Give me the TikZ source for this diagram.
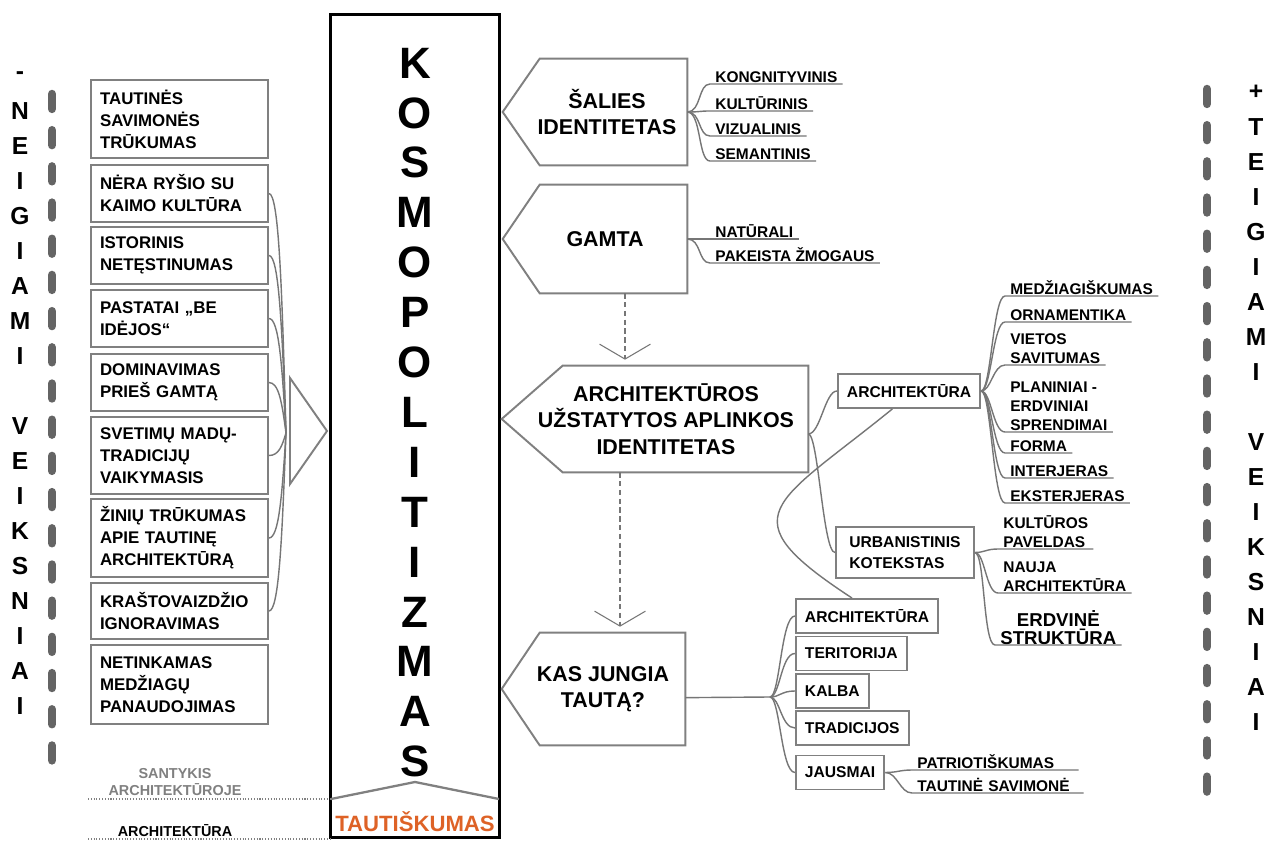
\documentclass[tikz,border=0pt]{standalone}
\usepackage{fontspec}
\setmainfont{Liberation Sans}
\usetikzlibrary{arrows.meta}

\definecolor{boxgray}{RGB}{128,128,128}
\definecolor{linkgray}{RGB}{118,118,118}
\definecolor{bargray}{RGB}{100,100,100}
\definecolor{notegray}{RGB}{128,128,128}
\definecolor{tautorange}{RGB}{222,98,38}

% pentagon pointing left, drawn round a node: name, corner inset, tip depth
\newcommand{\pentagon}[3]{%
  \draw[pentline] (#1.north east) -- (#1.south east) -- ([xshift=#2]#1.south west)
    -- ([xshift=-#3]#1.west) -- ([xshift=#2]#1.north west) -- cycle;}

\begin{document}
\begin{tikzpicture}[
    x=0.02cm, y=-0.02cm,
    negbox/.style={draw=boxgray, line width=1.1pt, minimum width=3.54cm, text width=3.18cm,
      inner xsep=0.18cm, align=left, font=\fontsize{9.6}{12.5}\selectfont\bfseries},
    pent/.style={inner sep=0pt, align=center, font=\fontsize{12.2}{15.1}\selectfont\bfseries},
    pentline/.style={draw=boxgray, line width=1.1pt},
    tbox/.style={draw=boxgray, line width=1.1pt, anchor=west, minimum height=0.68cm,
      inner xsep=0.18cm, align=left, font=\fontsize{8.9}{11.9}\selectfont\bfseries},
    leaf/.style={anchor=south west, inner xsep=0.1cm, inner ysep=0.8pt, text depth=0pt,
      align=left, font=\fontsize{8.8}{10.8}\selectfont\bfseries},
    link/.style={draw=linkgray, line width=0.8pt},
    flow/.style={draw=linkgray, line width=0.6pt, densely dashed,
      -{Straight Barb[length=8.5pt,width=29pt]}, shorten >=3.4pt},
    sidebar/.style={draw=bargray, line width=4.8pt, line cap=round, dash pattern=on 8.5pt off 12.1pt},
    sideletter/.style={font=\fontsize{14}{14}\selectfont\bfseries},
    bigletter/.style={font=\fontsize{25}{25}\selectfont\bfseries},
    note/.style={align=center, font=\fontsize{8.2}{10.2}\selectfont\bfseries}
]
\useasboundingbox (0,0) rectangle (1279,841);
\fill[white] (0,0) rectangle (1279,841);

% side captions
\draw[sidebar] (52,94) -- (52,764);
\draw[sidebar] (1207,89) -- (1207,793);
\foreach \ch [count=\i from 0] in {-,N,E,I,G,I,A,M,I}
  \node[sideletter] (neg\i) at (20,76+35*\i) {\ch};
\foreach \ch [count=\i from 10] in {V,E,I,K,S,N,I,A,I}
  \node[sideletter] (neg\i) at (20,76+35*\i) {\ch};
\foreach \ch [count=\i from 0] in {+,T,E,I,G,I,A,M,I}
  \node[sideletter] (pos\i) at (1256,92+35*\i) {\ch};
\foreach \ch [count=\i from 10] in {V,E,I,K,S,N,I,A,I}
  \node[sideletter] (pos\i) at (1256,92+35*\i) {\ch};

% central column
\node[draw=black, line width=1.7pt, minimum width=3.4cm, minimum height=16.48cm, inner sep=0pt]
  (kosmo) at (415,426) {};
\foreach \ch [count=\i from 0] in {K,O,S,M,O,P,O,L,I,T,I,Z,M,A,S}
  \node[bigletter] (kl\i) at (415,63+49.9*\i) {\ch};
\draw[boxgray, line width=1.3pt] (331,799) -- (415,782) -- (499,799);
\node[text=tautorange, font=\fontsize{12.6}{12.6}\selectfont\bfseries] (tautiskumas) at (415,822) {TAUTIŠKUMAS};

% negative factors
\node[negbox, minimum height=1.56cm] (n1) at (179.5,119) {TAUTINĖS\\SAVIMONĖS\\TRŪKUMAS};
\node[negbox, minimum height=1.14cm] (n2) at (179.5,193.5) {NĖRA RYŠIO SU\\KAIMO KULTŪRA};
\node[negbox, minimum height=1.14cm] (n3) at (179.5,255.5) {ISTORINIS\\NETĘSTINUMAS};
\node[negbox, minimum height=1.14cm] (n4) at (179.5,318.5) {PASTATAI „BE\\IDĖJOS“};
\node[negbox, minimum height=1.14cm] (n5) at (179.5,382.5) {DOMINAVIMAS\\PRIEŠ GAMTĄ};
\node[negbox, minimum height=1.54cm] (n6) at (179.5,455.5) {SVETIMŲ MADŲ-\\TRADICIJŲ\\VAIKYMASIS};
\node[negbox, minimum height=1.56cm] (n7) at (179.5,538) {ŽINIŲ TRŪKUMAS\\APIE TAUTINĘ\\ARCHITEKTŪRĄ};
\node[negbox, minimum height=1.12cm] (n8) at (179.5,611) {KRAŠTOVAIZDŽIO\\IGNORAVIMAS};
\node[negbox, minimum height=1.58cm] (n9) at (179.5,684.5) {NETINKAMAS\\MEDŽIAGŲ\\PANAUDOJIMAS};

\coordinate (conv) at (286,433);
\foreach \b/\k in {n2/-144, n3/-107, n4/-69, n5/-30, n6/13, n7/63, n8/107}
  \draw[link] (\b.east) .. controls +(10,0) and +(-4,\k) .. (conv);
\draw[pentline] (290,378) -- (327,431) -- (290,484) -- cycle;

% bottom left notes
\node[note, text=notegray] (santykis) at (175,782) {SANTYKIS\\ARCHITEKTŪROJE};
\node[note] (archnote) at (175,831) {ARCHITEKTŪRA};
\draw[boxgray, densely dotted, line width=0.6pt] (88,799) -- (330,799);
\draw[boxgray, densely dotted, line width=0.6pt] (88,839) -- (330,839);

% identity blocks
\node[pent, minimum width=3.2cm, minimum height=2.12cm] (salies) at (607,112) {ŠALIES\\IDENTITETAS};
\pentagon{salies}{0.26cm}{0.48cm}
\node[pent, minimum width=3.28cm, minimum height=2.16cm] (gamta) at (605,239) {GAMTA};
\pentagon{gamta}{0.34cm}{0.40cm}
\node[pent, minimum width=5.68cm, minimum height=2.12cm] (archid) at (666,419)
  {ARCHITEKTŪROS\\UŽSTATYTOS APLINKOS\\IDENTITETAS};
\pentagon{archid}{0.78cm}{0.44cm}
\node[pent, minimum width=3.28cm, minimum height=2.24cm] (kas) at (603,689) {KAS JUNGIA\\TAUTĄ?};
\pentagon{kas}{0.38cm}{0.38cm}

\draw[flow] ([xshift=0.4cm]gamta.south) -- ([xshift=0.4cm]gamta.south |- archid.north);
\draw[flow] ([xshift=0.34cm]kas.north |- archid.south) -- ([xshift=0.34cm]kas.north);

% country identity
\node[leaf] (kong) at (710,84) {KONGNITYVINIS};
\node[leaf] (kultr) at (710,111) {KULTŪRINIS};
\node[leaf] (vizu) at (710,136) {VIZUALINIS};
\node[leaf] (sema) at (710,161) {SEMANTINIS};
\foreach \l in {kong,kultr,vizu,sema}
  \draw[link] (salies.east) .. controls +(14,0) and +(-12,0) .. (\l.south west) -- (\l.south east);

% nature
\node[leaf] (natu) at (710,239) {NATŪRALI};
\node[leaf] (pake) at (710,263) {PAKEISTA ŽMOGAUS};
\foreach \l in {natu,pake}
  \draw[link] (gamta.east) .. controls +(14,0) and +(-12,0) .. (\l.south west) -- (\l.south east);

% built environment
\node[tbox] (archA) at (837,391) {ARCHITEKTŪRA};
\node[tbox, minimum width=2.76cm, minimum height=1.02cm] (urban) at (835,552.5) {URBANISTINIS\\KOTEKSTAS};
\draw[link] (archid.-6) .. controls +(12,0) and +(-12,0) .. (archA.west);
\draw[link] (archid.-6) .. controls +(10,0) and +(-12,0) .. (urban.west);

\node[leaf] (medz) at (1005,296) {MEDŽIAGIŠKUMAS};
\node[leaf] (orna) at (1005,322) {ORNAMENTIKA};
\node[leaf] (viet) at (1005,365) {VIETOS\\SAVITUMAS};
\node[leaf] (plan) at (1005,432) {PLANINIAI -\\ERDVINIAI\\SPRENDIMAI};
\node[leaf] (form) at (1005,453) {FORMA};
\node[leaf] (inte) at (1005,478) {INTERJERAS};
\node[leaf] (ekst) at (1005,503) {EKSTERJERAS};
\foreach \l in {medz,orna,viet,plan,form,inte,ekst}
  \draw[link] (archA.east) .. controls +(10,0) and +(-12,0) .. (\l.south west) -- (\l.south east);

\node[leaf] (kpav) at (998,549) {KULTŪROS\\PAVELDAS};
\node[leaf] (nauj) at (998,593) {NAUJA\\ARCHITEKTŪRA};
\node[leaf, align=center, inner ysep=0pt, font=\fontsize{10.6}{10.6}\selectfont\bfseries] (erdv) at (995,645) {ERDVINĖ\\STRUKTŪRA};
\foreach \l in {kpav,nauj,erdv}
  \draw[link] (urban.east) .. controls +(10,0) and +(-12,0) .. (\l.south west) -- (\l.south east);

% what unites the nation
\node[tbox] (karch) at (795,616) {ARCHITEKTŪRA};
\node[tbox] (kteri) at (795,653.5) {TERITORIJA};
\node[tbox] (kkalb) at (795,691) {KALBA};
\node[tbox] (ktrad) at (795,728) {TRADICIJOS};
\node[tbox] (kjaus) at (795,772.5) {JAUSMAI};
\coordinate (fan) at (770,697);
\draw[link] (kas.-6) -- (fan);
\foreach \b in {karch,kteri,kkalb,ktrad,kjaus}
  \draw[link] (fan) .. controls +(10,0) and +(-14,0) .. (\b.west);

\node[leaf, text width=3.12cm] (patr) at (912,770) {PATRIOTIŠKUMAS};
\node[leaf, text width=3.22cm] (tsav) at (912,793) {TAUTINĖ SAVIMONĖ};
\foreach \l in {patr,tsav}
  \draw[link] (kjaus.east) .. controls +(12,0) and +(-12,0) .. (\l.south west) -- (\l.south east);

% link between the two architecture nodes
\draw[link] (archA.227) .. controls +(-118,96) and +(-127,-83) .. (karch.130);

\end{tikzpicture}
\end{document}
